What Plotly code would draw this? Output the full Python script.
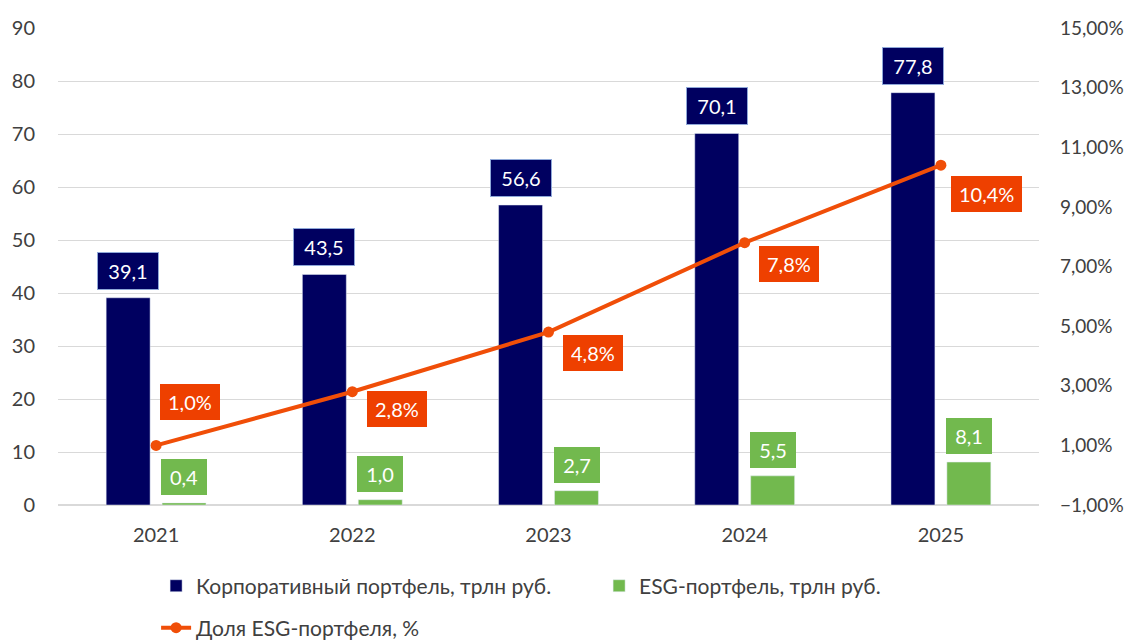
import plotly.graph_objects as go

# данные
years = ['2021', '2022', '2023', '2024', '2025']
corp_portfolio = [39.1, 43.5, 56.6, 70.1, 77.8]   # трлн руб.
esg_portfolio = [0.4, 1.0, 2.7, 5.5, 8.1]         # трлн руб.
esg_share = [1.0, 2.8, 4.8, 7.8, 10.4]            # %

NAVY = '#000060'
GREEN = '#72B94E'
ORANGE_LINE = '#F04E08'
ORANGE_BOX = '#EE4000'
TEXT = '#404040'
GRID = '#D9D9D9'
FONT = 'Lato, "Noto Sans", sans-serif'

# сдвиги подписей доли (px) относительно точки
share_xshift = [4, 15, 14, 14, 10]
share_yshift = [43, -17, -21, -21, -29]


def fmt(v, suffix=''):
    return f'{v:.1f}'.replace('.', ',') + suffix


fig = go.Figure()
fig.add_trace(go.Bar(x=years, y=corp_portfolio, name='Корпоративный портфель, трлн руб.',
                     marker_color=NAVY, legend='legend'))
fig.add_trace(go.Bar(x=years, y=esg_portfolio, name='ESG-портфель, трлн руб.',
                     marker_color=GREEN, legend='legend'))
fig.add_trace(go.Scatter(x=years, y=esg_share, name='Доля ESG-портфеля, %', yaxis='y2',
                         mode='lines+markers', line=dict(color=ORANGE_LINE, width=4),
                         marker=dict(size=11, color=ORANGE_LINE), legend='legend2'))

# на категориальной оси подписи ставим по индексу категории
annotations = []
for i, v in enumerate(corp_portfolio):
    annotations.append(dict(x=i, y=v, xref='x', yref='y', xshift=-28, yshift=8,
                            yanchor='bottom', text=fmt(v), showarrow=False,
                            font=dict(family=FONT, size=20, color='white'),
                            bgcolor=NAVY, bordercolor='#8FA8D8', borderwidth=1,
                            borderpad=7, width=46, height=22))
for i, v in enumerate(esg_portfolio):
    annotations.append(dict(x=i, y=v, xref='x', yref='y', xshift=28, yshift=8,
                            yanchor='bottom', text=fmt(v), showarrow=False,
                            font=dict(family=FONT, size=20, color='white'),
                            bgcolor=GREEN, borderwidth=0,
                            borderpad=7, width=32, height=22))
for i, (v, dx, dy) in enumerate(zip(esg_share, share_xshift, share_yshift)):
    annotations.append(dict(x=i, y=v, xref='x', yref='y2', xshift=dx, yshift=dy,
                            xanchor='left', yanchor='middle', text=fmt(v, '%'),
                            showarrow=False,
                            font=dict(family=FONT, size=20, color='white'),
                            bgcolor=ORANGE_BOX, borderwidth=0, borderpad=8, height=20))

fig.update_layout(
    width=1131, height=642,
    margin=dict(l=58, r=92, t=28, b=137, autoexpand=False),
    plot_bgcolor='white', paper_bgcolor='white',
    font=dict(family=FONT, size=20, color=TEXT),
    separators=', ',
    barmode='group', bargap=0.43, bargroupgap=0.214,
    annotations=annotations,
    legend=dict(orientation='h', x=0.100, xanchor='left', y=-0.170, yanchor='middle',
                font=dict(size=21, color=TEXT), bgcolor='rgba(0,0,0,0)',
                entrywidth=398, entrywidthmode='pixels'),
    legend2=dict(orientation='h', x=0.100, xanchor='left', y=-0.258, yanchor='middle',
                 font=dict(size=21, color=TEXT), bgcolor='rgba(0,0,0,0)'),
    xaxis=dict(type='category', range=[-0.5, len(years) - 0.5], showgrid=False,
               showline=False, tickfont=dict(size=20, color=TEXT), ticklabelstandoff=16),
    yaxis=dict(range=[0, 90], dtick=10, showgrid=True, gridcolor=GRID, gridwidth=1,
               zeroline=True, zerolinecolor=GRID, zerolinewidth=1.5,
               tickfont=dict(size=20, color=TEXT), ticklabelstandoff=22),
    yaxis2=dict(range=[-1, 15], tick0=-1, dtick=2, overlaying='y', side='right',
                showgrid=False, zeroline=False, tickformat='.2f', ticksuffix='%',
                tickfont=dict(size=19, color=TEXT), ticklabelstandoff=20),
)

# убираем стандартный отступ body, чтобы график лёг ровно в окно
fig.write_html('out.html', config={'displayModeBar': False},
               post_script="document.body.style.margin='0';")
